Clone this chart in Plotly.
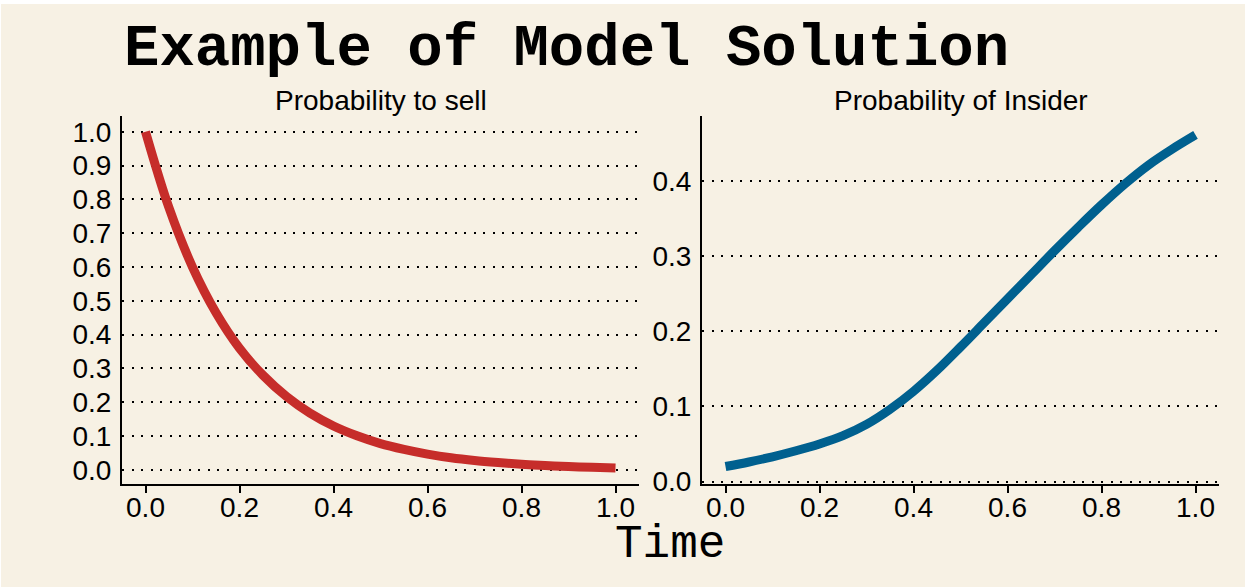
import plotly.graph_objects as go
from plotly.subplots import make_subplots

# values
time = [0.0, 0.05, 0.1, 0.15, 0.2, 0.25, 0.3, 0.35, 0.4, 0.45, 0.5,
        0.55, 0.6, 0.65, 0.7, 0.75, 0.8, 0.85, 0.9, 0.95, 1.0]
prob_sell = [1.0, 0.775, 0.60, 0.465, 0.36, 0.28, 0.217, 0.168, 0.130, 0.101, 0.078,
             0.061, 0.047, 0.036, 0.028, 0.022, 0.017, 0.013, 0.010, 0.008, 0.006]
prob_insider = [0.020, 0.026, 0.033, 0.041, 0.050, 0.061, 0.076, 0.096, 0.120, 0.148, 0.179,
                0.211, 0.243, 0.275, 0.307, 0.338, 0.368, 0.396, 0.421, 0.442, 0.461]

x_ticks = [0.0, 0.2, 0.4, 0.6, 0.8, 1.0]
y_ticks_sell = [0.0, 0.1, 0.2, 0.3, 0.4, 0.5, 0.6, 0.7, 0.8, 0.9, 1.0]
y_ticks_insider = [0.0, 0.1, 0.2, 0.3, 0.4]

W, H = 1247, 588
FIG_H = 602  # page is captured a bit taller and squeezed to 588
BG = "#f7f1e4"
RED = "#c62d2a"
BLUE = "#00608f"
SANS = "Liberation Sans, Arial, Helvetica, sans-serif"
MONO = "Courier New, Liberation Mono, monospace"

fig = make_subplots(rows=1, cols=2)

fig.add_trace(go.Scatter(x=time, y=prob_sell, mode="lines", line_shape="spline",
                         line=dict(color=RED, width=9), showlegend=False), row=1, col=1)
fig.add_trace(go.Scatter(x=time, y=prob_insider, mode="lines", line_shape="spline",
                         line=dict(color=BLUE, width=9), showlegend=False), row=1, col=2)

common_x = dict(range=[-0.05, 1.05], tickvals=x_ticks, tickformat=".1f",
                showline=True, linecolor="black", linewidth=2,
                ticks="outside", ticklen=7, tickwidth=2, tickcolor="black",
                ticklabelstandoff=-9,
                showgrid=False, zeroline=False,
                tickfont=dict(family=SANS, size=28, color="black"))
common_y = dict(tickformat=".1f", showline=True, linecolor="black", linewidth=2,
                ticks="", ticklabelstandoff=3,
                showgrid=True, gridcolor="black", gridwidth=2, griddash="2px,7.5px",
                zeroline=False,
                tickfont=dict(family=SANS, size=28, color="black"))

fig.update_xaxes(domain=[122 / W, 639 / W], row=1, col=1, **common_x)
fig.update_xaxes(domain=[702 / W, 1219 / W], row=1, col=2, **common_x)
fig.update_yaxes(domain=[(H - 483) / H, (H - 116) / H], range=[-0.041, 1.046],
                 tickvals=y_ticks_sell, row=1, col=1, **common_y)
fig.update_yaxes(domain=[(H - 483) / H, (H - 116) / H], range=[-0.003, 0.486],
                 tickvals=y_ticks_insider, row=1, col=2, **common_y)

# titles and labels
fig.add_annotation(text="<b>Example of Model Solution</b>", xref="paper", yref="paper",
                   x=122 / W, y=1 - 49 / H, xanchor="left", yanchor="middle", showarrow=False,
                   font=dict(family=MONO, size=59, color="black"))
fig.add_annotation(text="Probability to sell", xref="paper", yref="paper",
                   x=380.5 / W, y=1 - 100 / H, xanchor="center", yanchor="middle", showarrow=False,
                   font=dict(family=SANS, size=28, color="black"))
fig.add_annotation(text="Probability of Insider", xref="paper", yref="paper",
                   x=960.5 / W, y=1 - 100 / H, xanchor="center", yanchor="middle", showarrow=False,
                   font=dict(family=SANS, size=28, color="black"))
fig.add_annotation(text="Time", xref="paper", yref="paper",
                   x=670 / W, y=1 - 544 / H, xanchor="center", yanchor="middle", showarrow=False,
                   font=dict(family=MONO, size=46, color="black"))

# beige card with a thin white edge
fig.add_shape(type="rect", xref="paper", yref="paper", layer="below",
              x0=1 / W, x1=1245 / W, y0=2 / H, y1=1 - 4 / H,
              fillcolor=BG, line_width=0)

fig.update_layout(
    width=W, height=FIG_H,
    margin=dict(l=0, r=0, t=0, b=0),
    paper_bgcolor="white", plot_bgcolor="rgba(0,0,0,0)",
)

page_js = """
document.documentElement.style.margin='0';
document.body.style.margin='0';
document.body.style.overflow='hidden';
"""
fig.write_html("out.html", post_script=page_js,
               config={"displayModeBar": False, "responsive": False})
